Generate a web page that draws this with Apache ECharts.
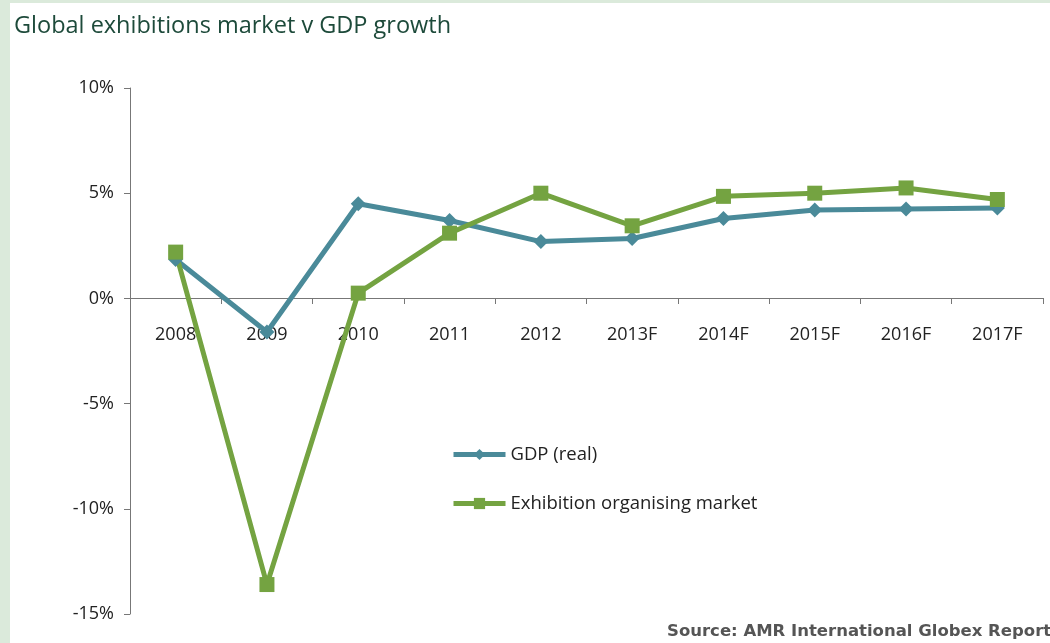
<!DOCTYPE html>
<html>
<head>
<meta charset="utf-8">
<script src="https://cdn.jsdelivr.net/npm/echarts@6/dist/echarts.min.js"></script>
<style>
  html, body { margin: 0; padding: 0; background: #dbeadb; }
  #wrap { position: absolute; left: 10px; top: 3px; width: 1040px; height: 640px; background: #fff; }
  #main { width: 1040px; height: 640px; }
</style>
</head>
<body>
<div id="wrap"><div id="main"></div></div>
<script>
const years = ['2008', '2009', '2010', '2011', '2012', '2013F', '2014F', '2015F', '2016F', '2017F'];
const gdpReal = [1.85, -1.6, 4.5, 3.7, 2.7, 2.85, 3.8, 4.2, 4.25, 4.3];
const exhibitionMarket = [2.2, -13.6, 0.25, 3.1, 5.0, 3.45, 4.85, 5.0, 5.25, 4.7];

const chart = echarts.init(document.getElementById('main'));
chart.setOption({
  animation: false,
  textStyle: { fontFamily: 'Open Sans' },
  title: {
    text: 'Global exhibitions market v GDP growth',
    left: -1, top: 6,
    textStyle: { fontFamily: 'Open Sans', fontSize: 23.5, fontWeight: 'normal', color: '#1d4a3a' }
  },
  grid: { left: 120, right: 7, top: 85, bottom: 29 },
  legend: {
    orient: 'vertical',
    left: 436, top: 437,
    itemWidth: 52, itemHeight: 14, itemGap: 30,
    lineStyle: { width: 5 },
    textStyle: { fontSize: 18.5, color: '#222' },
    data: ['GDP (real)', 'Exhibition organising market']
  },
  xAxis: {
    type: 'category',
    data: years,
    offset: -316,
    axisLine: { onZero: false, lineStyle: { color: '#777', width: 1 } },
    axisTick: { show: true, length: 6, lineStyle: { color: '#777' } },
    axisLabel: { fontSize: 18, color: '#222', margin: 28 }
  },
  yAxis: {
    type: 'value',
    min: -15, max: 10, interval: 5,
    splitLine: { show: false },
    axisLine: { show: true, lineStyle: { color: '#777' } },
    axisTick: { show: true, length: 6, lineStyle: { color: '#777' } },
    axisLabel: { fontSize: 18, color: '#222', margin: 16, formatter: '{value}%' }
  },
  series: [
    {
      name: 'GDP (real)',
      type: 'line',
      data: gdpReal,
      symbol: 'diamond', symbolSize: 15,
      color: '#4a8a99',
      lineStyle: { width: 5, color: '#4a8a99' },
      itemStyle: { color: '#4a8a99' }
    },
    {
      name: 'Exhibition organising market',
      type: 'line',
      data: exhibitionMarket,
      symbol: 'rect', symbolSize: 15,
      color: '#74a341',
      lineStyle: { width: 5, color: '#74a341' },
      itemStyle: { color: '#74a341' }
    }
  ],
  graphic: [{
    type: 'text',
    left: 657, top: 620,
    style: {
      text: 'Source: AMR International Globex Report',
      font: 'bold 16.5px "DejaVu Sans"',
      fill: '#555'
    }
  }]
});
</script>
</body>
</html>
